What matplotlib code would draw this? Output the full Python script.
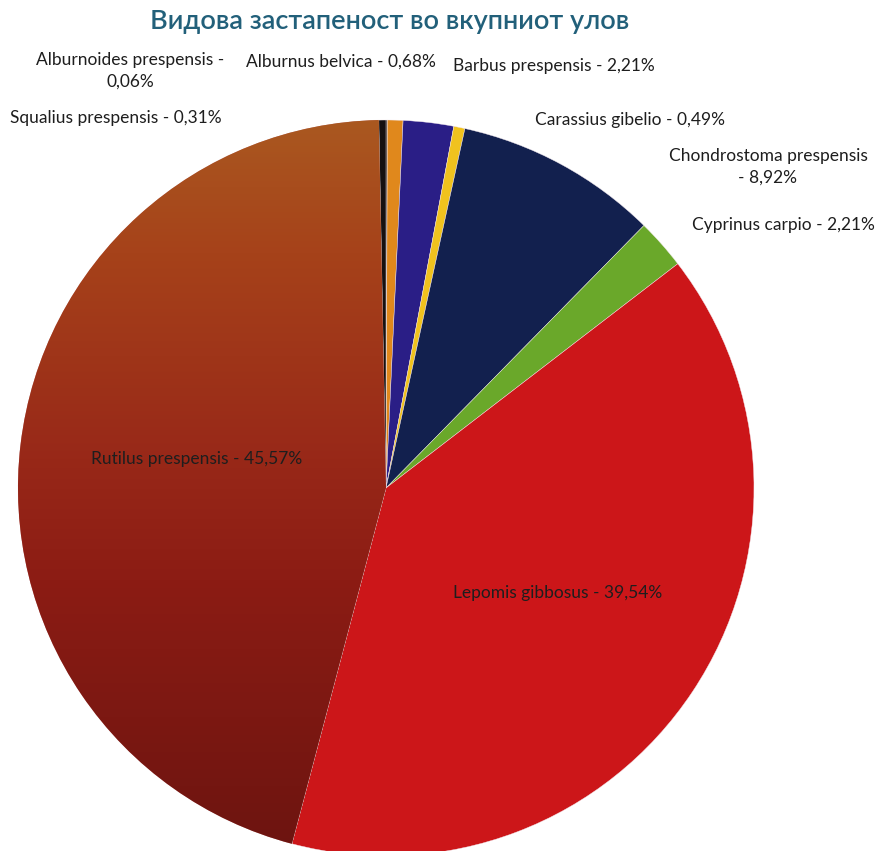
import numpy as np
import matplotlib
matplotlib.use("Agg")
import matplotlib.pyplot as plt
from matplotlib.colors import LinearSegmentedColormap

# species share in total catch (%)
species = ["Alburnoides prespensis", "Alburnus belvica", "Barbus prespensis",
           "Carassius gibelio", "Chondrostoma prespensis", "Cyprinus carpio",
           "Lepomis gibbosus", "Rutilus prespensis", "Squalius prespensis"]
shares = [0.06, 0.68, 2.21, 0.49, 8.92, 2.21, 39.54, 45.57, 0.31]
labels = ["Alburnoides prespensis -\n0,06%", "Alburnus belvica - 0,68%",
          "Barbus prespensis - 2,21%", "Carassius gibelio - 0,49%",
          "Chondrostoma prespensis\n- 8,92%", "Cyprinus carpio - 2,21%",
          "Lepomis gibbosus - 39,54%", "Rutilus prespensis - 45,57%",
          "Squalius prespensis - 0,31%"]
colors = ["#1a1410", "#e0881c", "#2a1e86", "#f0c21e", "#12204e",
          "#6aa82a", "#cc1619", "#9a2a18", "#151010"]
title = "Видова застапеност во вкупниот улов"

# label positions in pixel coords (x, y from top)
label_pos = [(130, 71), (341, 62), (554, 66), (630, 120), (768, 167),
             (783, 225), (558, 593), (197, 459), (116, 118)]

W, H = 875, 851
fonts = ["Lato", "Noto Sans", "DejaVu Sans"]

fig = plt.figure(figsize=(W / 100, H / 100), dpi=100)
ax = fig.add_axes([0, 0, 1, 1])

cx, cy, r = 386, H - 488, 368
wedges, _ = ax.pie(shares, colors=colors, startangle=90, counterclock=False,
                   center=(cx, cy), radius=r, frame=True,
                   wedgeprops=dict(linewidth=0.3, edgecolor="#f4e8ee"))

# Rutilus slice has a vertical brown gradient (bottom -> top)
cmap = LinearSegmentedColormap.from_list(
    "rut", [(0.0, "#6c1410"), (0.375, "#8c1c14"), (0.54, "#982818"),
            (0.82, "#a6421a"), (1.0, "#aa5820")])
grad = np.linspace(0, 1, 256).reshape(-1, 1)
im = ax.imshow(grad, cmap=cmap, origin="lower", aspect="auto",
               extent=(cx - r, cx + r, cy - r, cy + r), zorder=wedges[7].get_zorder() + 0.1)
im.set_clip_path(wedges[7])

ax.set_xlim(0, W)
ax.set_ylim(0, H)
ax.set_aspect("equal")
ax.axis("off")

for lab, (x, y) in zip(labels, label_pos):
    ax.text(x, H - y, lab, ha="center", va="center", fontsize=12.5,
            family=fonts, color="#1e1e1e", linespacing=1.45, zorder=10)

ax.text(390, H - 22, title, ha="center", va="center", fontsize=19.5,
        family=fonts, fontweight="semibold", color="#22607a", zorder=10)

fig.savefig("out.png", dpi=100)
